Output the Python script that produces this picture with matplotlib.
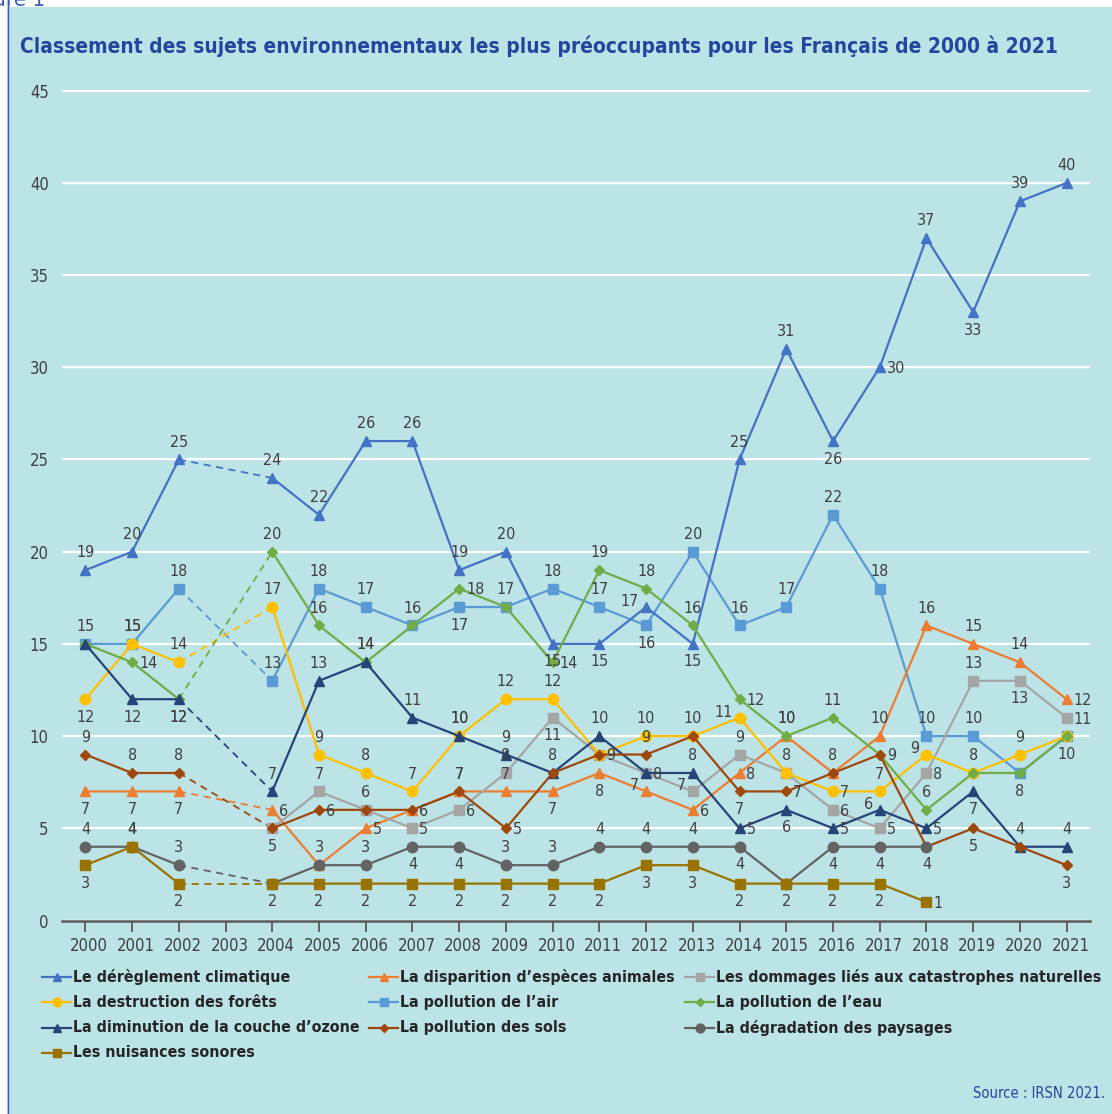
import numpy as np
import matplotlib
matplotlib.use('Agg')
import matplotlib.pyplot as plt
from matplotlib import font_manager
from matplotlib.lines import Line2D
from matplotlib.patches import Rectangle
from matplotlib.transforms import ScaledTranslation

nan = np.nan

# Categories (2003 has no survey)
years = ['2000', '2001', '2002', '2003', '2004', '2005', '2006', '2007', '2008', '2009', '2010',
         '2011', '2012', '2013', '2014', '2015', '2016', '2017', '2018', '2019', '2020', '2021']

climat = [19, 20, 25, nan, 24, 22, 26, 26, 19, 20, 15, 15, 17, 15, 25, 31, 26, 30, 37, 33, 39, 40]
especes = [7, 7, 7, nan, 6, 3, 5, 6, 7, 7, 7, 8, 7, 6, 8, 10, 8, 10, 16, 15, 14, 12]
catastrophes = [nan, nan, nan, nan, 5, 7, 6, 5, 6, 8, 11, 9, 8, 7, 9, 8, 6, 5, 8, 13, 13, 11]
forets = [12, 15, 14, nan, 17, 9, 8, 7, 10, 12, 12, 9, 10, 10, 11, 8, 7, 7, 9, 8, 9, 10]
air = [15, 15, 18, nan, 13, 18, 17, 16, 17, 17, 18, 17, 16, 20, 16, 17, 22, 18, 10, 10, 8, 10]
eau = [15, 14, 12, nan, 20, 16, 14, 16, 18, 17, 14, 19, 18, 16, 12, 10, 11, 9, 6, 8, 8, 10]
ozone = [15, 12, 12, nan, 7, 13, 14, 11, 10, 9, 8, 10, 8, 8, 5, 6, 5, 6, 5, 7, 4, 4]
sols = [9, 8, 8, nan, 5, 6, 6, 6, 7, 5, 8, 9, 9, 10, 7, 7, 8, 9, 4, 5, 4, 3]
paysages = [4, 4, 3, nan, 2, 3, 3, 4, 4, 3, 3, 4, 4, 4, 4, 2, 4, 4, 4, nan, nan, nan]
sonores = [3, 4, 2, nan, 2, 2, 2, 2, 2, 2, 2, 2, 3, 3, 2, 2, 2, 2, 1, nan, nan, nan]

series_names = [
    'Le dérèglement climatique',
    'La disparition d\u2019espèces animales',
    'Les dommages liés aux catastrophes naturelles',
    'La destruction des forêts',
    'La pollution de l\u2019air',
    'La pollution de l\u2019eau',
    'La diminution de la couche d\u2019ozone',
    'La pollution des sols',
    'La dégradation des paysages',
    'Les nuisances sonores',
]
series_values = [climat, especes, catastrophes, forets, air, eau, ozone, sols, paysages, sonores]

# style per series: colour, marker, marker size
STYLES = [
    ('#4472C4', '^', 7.5),
    ('#ED7D31', '^', 7.5),
    ('#A5A5A5', 's', 7),
    ('#FFC000', 'o', 7.5),
    ('#5B9BD5', 's', 7),
    ('#70AD47', 'D', 5.3),
    ('#264478', '^', 7.5),
    ('#9E480E', 'D', 5.3),
    ('#636363', 'o', 7.5),
    ('#997300', 's', 7),
]

# data label placement: a=above, b=below, r=right, l=left, -=none
LABEL_POS = [
    'aaa-aaaaaabblbaabrabaa',
    'bbb-r-rraabblrraaaaaar',
    '----baarrabrrlaarrrabr',
    'baa-aaaaaaa-aal-ralaa-',
    'aaa-aaaabaaabaaaaaaabb',
    '-rb-aaa-r-raaaraa-a---',
    '-bb-aaaaaaaa-arbrlrbaa',
    'aaa--r--ar--a-br-r-b-b',
    'aaa--aabbaaaaab-bbb---',
    'bab-bbbbbbbbbbbbbbr---',
]

W, H = 1112, 1114
BG = '#BCE3E6'
BLUE_TXT = '#23469E'
YMAX = 45.1

# pick a narrow face if one is installed
_faces = font_manager.fontManager.ttflist
_names = {f.name for f in _faces}
if 'Liberation Sans Narrow' in _names:
    FONT, STRETCH = 'Liberation Sans Narrow', 'normal'
elif any(f.name == 'DejaVu Sans' and f.stretch == 'condensed' for f in _faces):
    FONT, STRETCH = 'DejaVu Sans', 'condensed'
else:
    FONT, STRETCH = 'Roboto', 'normal'
plt.rcParams['font.family'] = [FONT, 'DejaVu Sans']
plt.rcParams['font.stretch'] = STRETCH


def fx(px):
    return px / W


def fy(py):
    return 1 - py / H


def fit_width(fig, texts, widths):
    """Shrink a group of texts so that each fits its pixel width."""
    r = fig.canvas.get_renderer()
    scale = 1.0
    for t, w in zip(texts, widths):
        scale = min(scale, w / t.get_window_extent(r).width)
    for t in texts:
        t.set_fontsize(t.get_fontsize() * scale)
    return scale


def draw_series(ax, fs):
    x = np.arange(len(years))
    offsets = {'a': ((0, 12.5), 'center', 'center'),
               'b': ((0, -13), 'center', 'center'),
               'r': ((5, -1), 'left', 'center'),
               'l': ((-5, 4), 'right', 'center')}
    for i, (vals, (color, marker, ms)) in enumerate(zip(series_values, STYLES)):
        v = np.array(vals, dtype=float)
        z = 2.9 if i == 4 else 3 + i * 0.01
        ax.plot(x, v, color=color, lw=1.6, marker=marker, ms=ms,
                markerfacecolor=color, markeredgecolor=color, zorder=z, clip_on=False)
        # dashed bridge over the missing year
        valid = np.where(~np.isnan(v))[0]
        for a, b in zip(valid[:-1], valid[1:]):
            if b - a > 1:
                ax.plot([x[a], x[b]], [v[a], v[b]], color=color, lw=1.3,
                        ls=(0, (4, 3)), zorder=z - 0.5)
        for j, pos in enumerate(LABEL_POS[i]):
            if pos == '-' or np.isnan(v[j]):
                continue
            off, ha, va = offsets[pos]
            ax.annotate(f'{int(v[j])}', (x[j], v[j]), xytext=off, textcoords='offset points',
                        ha=ha, va=va, fontsize=fs, color='#404040', zorder=6)


def draw_legend(fig):
    col_x = [42, 369, 685]
    texts = []
    for i, (name, (color, marker, ms)) in enumerate(zip(series_names, STYLES)):
        row, col = divmod(i, 3)
        x0 = col_x[col]
        y = 977 + row * 25.3
        fig.add_artist(Line2D([fx(x0), fx(x0 + 29)], [fy(y), fy(y)], transform=fig.transFigure,
                              color=color, lw=1.6))
        fig.add_artist(Line2D([fx(x0 + 14.5)], [fy(y)], transform=fig.transFigure,
                              marker=marker, ms=ms * 0.85, color=color, lw=0))
        texts.append(fig.text(fx(x0 + 31), fy(y), name, ha='left', va='center', fontsize=14,
                              fontweight='bold', color='#262626'))
    # text must stay clear of the next column's handle
    room = [col_x[1] - col_x[0] - 36, col_x[2] - col_x[1] - 36, W - 10 - col_x[2] - 31]
    fit_width(fig, texts, [room[i % 3] for i in range(len(texts))])


def main():
    fig = plt.figure(figsize=(W / 100, H / 100), dpi=100, facecolor='white')

    # teal panel with a thin blue left border
    fig.add_artist(Rectangle((fx(7), 0), 1 - fx(7), fy(7), transform=fig.transFigure,
                             facecolor=BG, edgecolor='none', zorder=0))
    fig.add_artist(Line2D([fx(7.5), fx(7.5)], [0, 1], transform=fig.transFigure,
                          color='#3A5BB8', lw=1))
    fig.text(fx(45), fy(6), 'Figure 1', ha='right', va='baseline', fontsize=16, color='#3A5BB8')

    title = fig.text(fx(20), fy(53), 'Classement des sujets environnementaux les plus préoccupants '
                     'pour les Français de 2000 à 2021', ha='left', va='baseline', fontsize=18.5,
                     fontweight='bold', color=BLUE_TXT)
    fit_width(fig, [title], [1042])
    fs_tick = 12

    y0_px, unit = 920.5, 18.44
    ax = fig.add_axes([fx(62), fy(y0_px), fx(1090) - fx(62), YMAX * unit / H])
    ax.set_facecolor('none')
    ax.set_xlim(-0.5, len(years) - 0.5)
    ax.set_ylim(0, YMAX)
    ax.set_yticks(range(0, 46, 5))
    ax.yaxis.grid(True, color='white', lw=1.6)
    ax.set_axisbelow(True)
    for s in ['top', 'right', 'left']:
        ax.spines[s].set_visible(False)
    ax.spines['bottom'].set_color('#595959')
    ax.spines['bottom'].set_linewidth(1.8)
    ax.spines['bottom'].set_zorder(2.5)
    ax.set_xticks(range(len(years)))
    ax.set_xticklabels(years)
    ax.tick_params(axis='x', length=8, width=1.3, color='#595959', pad=4,
                   labelsize=fs_tick, labelcolor='#404040')
    ax.tick_params(axis='y', length=0, pad=9.5, labelsize=fs_tick, labelcolor='#404040')
    for lab in ax.get_xticklabels():
        lab.set_transform(lab.get_transform() + ScaledTranslation(4 / 100, 0, fig.dpi_scale_trans))

    draw_series(ax, 11.5)
    draw_legend(fig)

    src = fig.text(fx(1105), fy(1093), 'Source : IRSN 2021.', ha='right', va='center',
                   fontsize=12, color=BLUE_TXT)
    fit_width(fig, [src], [132])

    fig.savefig('out.png', dpi=100, facecolor='white')
    plt.close(fig)


if __name__ == '__main__':
    main()
